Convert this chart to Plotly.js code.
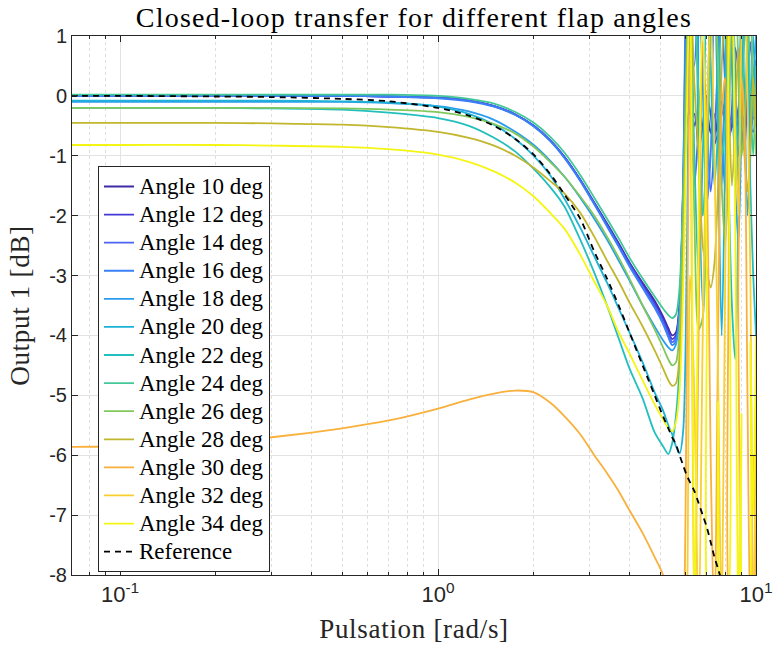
<!DOCTYPE html>
<html>
<head>
<meta charset="utf-8">
<script src="https://cdn.plot.ly/plotly-3.0.1.min.js"></script>
<style>
  html, body { margin: 0; padding: 0; background: #ffffff; }
  #chart { width: 773px; height: 654px; }
  /* wider set for the serif texts */
  .gtitle { letter-spacing: 1.2px; }
  .xtitle, .ytitle { letter-spacing: 0.7px; }
  .legendtext { font-size: 23px !important; }
</style>
</head>
<body>
<div id="chart"></div>
<script>
// Frequency grid shared by every closed-loop response [rad/s]
const pulsation = [0.07, 0.1, 0.2, 0.3, 0.5, 0.7, 1.0, 1.25, 1.5, 1.75, 2.0, 2.25, 2.5, 2.8, 3.1, 3.4, 3.7, 4.0, 4.4, 4.8,
  5.1, 5.3, 5.45, 5.6, 5.75, 5.9, 6.05, 6.2, 6.4, 6.6, 6.8, 7.0, 7.2, 7.4, 7.6, 7.8, 8.0, 8.2, 8.4, 8.6, 8.8, 9.0,
  9.2, 9.4, 9.6, 9.8, 10.0];

// Magnitude of output 1 [dB] for each flap angle
const angle10 = [0, 0, 0, 0, 0, -0.01, -0.03, -0.08, -0.17, -0.31, -0.5, -0.74, -1.02, -1.4, -1.78, -2.13, -2.46, -2.78, -3.12, -3.42,
  -3.68, -3.88, -4.0, -3.95, -3.45, -1.8, -0.5, -0.2,
  -0.5, -0.2, -0.55, -0.25, -0.62, -0.3, -0.68, -0.2, -0.42, -0.3, -0.52, -0.35, -0.5, -0.25, -0.45, -0.3, -0.55, -0.35, -0.45];
const angle12 = [0, 0, 0, 0, 0, -0.01, -0.03, -0.08, -0.17, -0.31, -0.5, -0.74, -1.02, -1.4, -1.79, -2.15, -2.48, -2.8, -3.15, -3.46,
  -3.72, -3.93, -4.06, -4.0, -3.5, -1.6, 0.2, -0.3,
  -0.3, -0.9, -0.5, 0.0, -0.3, -0.8, -0.6, -0.1, -0.3, -0.7, -0.5, -0.1, -0.4, -0.8, -0.4, -0.2, -0.5, -0.6, -0.3];
const angle14 = [0, 0, 0, 0, 0, -0.01, -0.03, -0.08, -0.17, -0.31, -0.5, -0.74, -1.03, -1.41, -1.8, -2.16, -2.5, -2.82, -3.18, -3.5,
  -3.77, -3.98, -4.11, -4.05, -3.55, -1.4, 1.5, 0.3,
  -1.5, -0.5, 0.5, -0.3, -1.6, -0.8, 0.6, 1.2, 0.2, -0.8, -0.2, 0.8, 0.4, -0.6, -0.9, 0.1, 0.9, 0.3, -0.5];
const angle16 = [0, 0, 0, 0, 0, -0.01, -0.04, -0.09, -0.18, -0.32, -0.51, -0.75, -1.04, -1.42, -1.81, -2.18, -2.52, -2.85, -3.21, -3.54,
  -3.81, -4.03, -4.16, -4.1, -3.6, -1.5, 2.0, 1.0,
  0.5, 2.0, 0.2, -1.8, -1.0, 1.5, 1.0, -0.6, -1.6, 0.2, 1.8, 0.5, -1.0, -0.4, 1.2, 0.8, -0.7, -0.2, 0.6];
const angle18 = [-0.1, -0.1, -0.1, -0.1, -0.1, -0.12, -0.17, -0.26, -0.4, -0.6, -0.82, -1.08, -1.35, -1.7, -2.05, -2.4, -2.75, -3.08, -3.5, -3.85,
  -4.08, -4.2, -4.25, -4.15, -3.6, -1.9, 0.5, 2.0,
  2.0, -0.5, -2.0, -0.8, 1.5, 2.0, -0.5, -1.5, 0.5, 2.0, 0.5, -1.5, -2.45, -0.5, 1.5, 0.8, -0.5, 0.2, 1.0];
const angle20 = [-0.08, -0.08, -0.08, -0.08, -0.09, -0.11, -0.18, -0.3, -0.48, -0.72, -1.0, -1.32, -1.72, -2.2, -2.68, -3.12, -3.55, -3.95, -4.45, -4.95,
  -5.25, -5.5, -5.65, -5.85, -5.97, -5.6, -3.0, 1.5,
  3.0, -1.0, -3.5, -2.0, 1.5, 2.0, -1.0, -4.0, -1.0, 2.0, 1.0, -1.5, -0.5, 1.5, 0.0, -2.0, -1.0, 1.0, 0.0];
const angle22 = [-0.2, -0.2, -0.2, -0.21, -0.23, -0.28, -0.37, -0.5, -0.7, -0.93, -1.22, -1.52, -1.85, -2.4, -2.95, -3.5, -4.05, -4.55, -5.05, -5.62,
  -5.85, -5.98, -5.8, -5.35, -4.5, -2.5, 0.5, 2.0,
  -1.0, -3.0, -1.0, 1.5, 0.5, -1.5, -0.5, 1.5, 1.0, -1.5, -3.5, -4.4, -2.0, 1.0, 2.0, 0.5, -1.5, -3.0, -4.0];
const angle24 = [0.02, 0.02, 0.02, 0.02, 0.02, 0.02, 0.0, -0.05, -0.13, -0.27, -0.45, -0.68, -0.95, -1.32, -1.7, -2.05, -2.38, -2.7, -3.05, -3.35,
  -3.55, -3.66, -3.71, -3.65, -3.2, -1.6, 0.8, 2.0,
  1.5, 0.0, -2.0, -1.0, 1.0, 2.0, 0.5, -1.0, -0.5, 1.5, 2.0, 0.0, -1.5, -0.5, 1.0, 1.5, 0.0, -1.0, 0.5];
const angle26 = [-0.2, -0.2, -0.2, -0.2, -0.21, -0.23, -0.27, -0.35, -0.47, -0.63, -0.85, -1.1, -1.35, -1.68, -2.0, -2.35, -2.7, -3.05, -3.5, -3.9,
  -4.2, -4.4, -4.5, -4.45, -3.9, -2.2, 0.3, 2.0,
  -2.0, -3.9, -3.7, -1.5, 1.0, 2.0, 0.5, -1.5, -2.5, -1.0, 1.5, 2.0, 0.5, -1.0, -0.5, 1.0, 1.5, 0.0, -1.0];
const angle28 = [-0.45, -0.45, -0.45, -0.46, -0.48, -0.52, -0.6, -0.7, -0.83, -1.0, -1.2, -1.42, -1.63, -1.95, -2.35, -2.75, -3.1, -3.45, -3.85, -4.25,
  -4.55, -4.75, -4.84, -4.8, -4.3, -2.6, 0.2, 2.0,
  0.2, -1.0, -2.5, -2.9, -3.2, -2.8, -1.5, 0.5, 1.5, 0.0, -1.5, -0.5, 0.8, 0.0, -1.0, -1.6, -0.8, 0.3, -0.5];
const angle30 = [-5.86, -5.85, -5.78, -5.7, -5.55, -5.42, -5.22, -5.07, -4.97, -4.92, -4.95, -5.12, -5.35, -5.65, -6.0, -6.3, -6.6, -6.92, -7.3, -7.7,
  -8.0, -8.4, -8.8, -9.3, -9.5, -9.0, -5.0, 1.0,
  -9.0, -4.0, 0.9, -1.0, -6.0, -9.0, -4.0, -0.3, 0.3, -2.0, -9.0, -9.0, -3.0, 0.3, -0.5, -5.0, -9.0, -6.0, -8.0];
const angle32 = [-10, -10, -10, -10, -10, -10, -10, -10, -10, -10, -10, -10, -10, -10, -10, -10, -10, -10, -10, -10,
  -10, -10, -10, -10, -10, -10, -9.0, -3.0,
  -5.0, -9.0, -4.0, -0.5, 1.5, -1.0, -4.7, -9.0, -3.0, 0.5, 1.5, -0.5, -2.0, 1.0, 2.0, 0.0, -3.0, -9.0, -5.0];
const angle34 = [-0.82, -0.82, -0.82, -0.83, -0.85, -0.89, -0.98, -1.1, -1.26, -1.45, -1.68, -1.95, -2.22, -2.65, -3.1, -3.5, -3.95, -4.3, -4.75, -5.15,
  -5.4, -5.55, -5.6, -5.45, -4.9, -3.2, -0.5, 2.0,
  -9.0, -2.0, 1.5, -3.0, -9.0, -9.0, -5.1, -9.0, -9.0, 1.0, 2.0, -2.0, -9.0, -5.3, -9.0, -9.0, -4.1, -7.0, -4.0];
const reference = [0, 0, -0.01, -0.02, -0.05, -0.09, -0.2, -0.33, -0.5, -0.72, -0.98, -1.3, -1.65, -2.05, -2.6, -3.05, -3.5, -3.95, -4.5, -5.0,
  -5.35, -5.55, -5.7, -5.82, -6.0, -6.17, -6.33, -6.45, -6.6, -6.8, -7.0, -7.2, -7.45, -7.7, -7.9, -8.1, -8.3, -8.5,
  -8.7, -8.9, -9.05, -9.2, -9.35, -9.5, -9.65, -9.8, -9.95];

const angleNames = ['Angle 10 deg', 'Angle 12 deg', 'Angle 14 deg', 'Angle 16 deg', 'Angle 18 deg', 'Angle 20 deg', 'Angle 22 deg',
  'Angle 24 deg', 'Angle 26 deg', 'Angle 28 deg', 'Angle 30 deg', 'Angle 32 deg', 'Angle 34 deg'];
const angleSeries = [angle10, angle12, angle14, angle16, angle18, angle20, angle22, angle24, angle26, angle28, angle30, angle32, angle34];
const angleColors = ['#3e2ba6', '#4138d6', '#4b62f2', '#3a80f6', '#2a9cec', '#1eb2d8', '#22bfbe', '#42c896', '#80c85c', '#c0b72e',
  '#f9b03c', '#f8cf2e', '#f5f514'];

const traces = angleSeries.map((vals, i) => ({
  x: pulsation, y: vals, name: angleNames[i], type: 'scatter', mode: 'lines',
  line: { color: angleColors[i], width: 1.8, shape: 'spline', smoothing: 0.8 }
}));
traces.push({
  x: pulsation, y: reference, name: 'Reference', type: 'scatter', mode: 'lines',
  line: { color: '#000000', width: 1.8, dash: '6px,5px', shape: 'spline', smoothing: 0.8 }
});

const serif = 'Liberation Serif, Times New Roman, serif';
const sans = 'Liberation Sans, Arial, sans-serif';
const axisColor = '#262626';

const layout = {
  width: 773, height: 654,
  margin: { l: 72, r: 17, t: 36, b: 79 },
  paper_bgcolor: '#ffffff', plot_bgcolor: '#ffffff',
  title: { text: 'Closed-loop transfer for different flap angles', font: { family: serif, size: 28, color: '#000000' },
           x: 0.5355, xanchor: 'center', y: 0.973, yanchor: 'middle' },
  xaxis: {
    type: 'log', range: [Math.log10(0.0706), 1],
    tickvals: [0.1, 1, 10], ticktext: ['10<sup>-1</sup>', '10<sup>0</sup>', '10<sup>1</sup>'],
    tickfont: { family: sans, size: 22, color: axisColor },
    ticks: 'inside', ticklen: 6, tickcolor: axisColor, tickwidth: 1,
    showline: true, linecolor: axisColor, linewidth: 1, mirror: 'ticks',
    showgrid: true, gridcolor: '#e3e3e3', gridwidth: 1, zeroline: false,
    minor: {
      tickvals: [0.08, 0.09, 0.2, 0.3, 0.4, 0.5, 0.6, 0.7, 0.8, 0.9, 2, 3, 4, 5, 6, 7, 8, 9],
      ticks: 'inside', ticklen: 3, tickcolor: axisColor,
      showgrid: true, gridcolor: '#dedede', gridwidth: 1, griddash: 'dot'
    },
    title: { text: 'Pulsation [rad/s]', font: { family: serif, size: 27, color: '#262626' }, standoff: 12 }
  },
  yaxis: {
    range: [-8, 1],
    tickvals: [-8, -7, -6, -5, -4, -3, -2, -1, 0, 1],
    ticktext: ['-8', '-7', '-6', '-5', '-4', '-3', '-2', '-1', '0', '1'],
    tickfont: { family: sans, size: 20, color: axisColor },
    ticks: 'inside', ticklen: 6, tickcolor: axisColor, tickwidth: 1,
    showline: true, linecolor: axisColor, linewidth: 1, mirror: 'ticks',
    showgrid: true, gridcolor: '#e3e3e3', gridwidth: 1, zeroline: false,
    title: { text: 'Output 1 [dB]', font: { family: serif, size: 27, color: '#262626' }, standoff: 11 }
  },
  legend: {
    x: 0.038, y: 0.758, xanchor: 'left', yanchor: 'top',
    bgcolor: '#ffffff', bordercolor: '#262626', borderwidth: 1,
    font: { family: serif, size: 19.3, color: '#000000' },
    itemwidth: 30, tracegroupgap: 0
  },
  showlegend: true
};

Plotly.newPlot('chart', traces, layout, { staticPlot: true, displayModeBar: false });
</script>
</body>
</html>
